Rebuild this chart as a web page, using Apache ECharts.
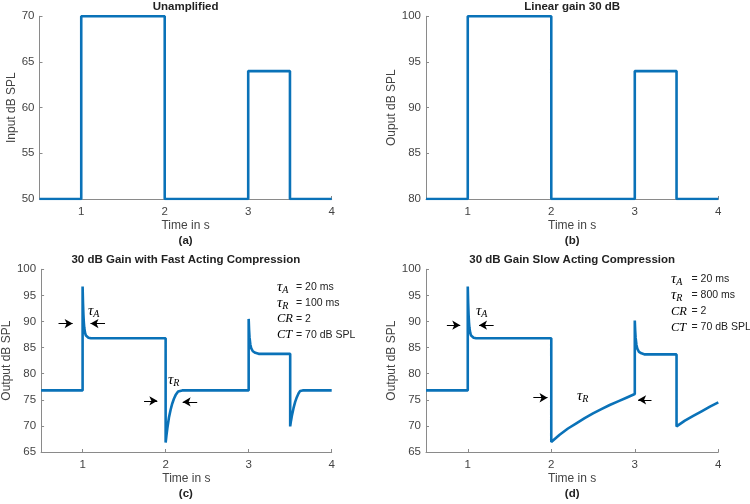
<!DOCTYPE html>
<html><head><meta charset="utf-8">
<script src="https://cdn.jsdelivr.net/npm/echarts@6/dist/echarts.min.js"></script>
<style>html,body{margin:0;padding:0;background:#fff}#c{width:750px;height:504px}</style>
</head><body><div id="c"></div>
<script>
// ---- data ----
const xTicks = [1, 2, 3, 4];

const tStep = [0.5, 1, 1, 2, 2, 3, 3, 3.5, 3.5, 4];
const inputLevel = [50, 50, 70, 70, 50, 50, 64, 64, 50, 50];
const linearOutput = [80, 80, 100, 100, 80, 80, 94, 94, 80, 80];

const tFast = [0.5, 1.0, 1.0, 1.005, 1.01, 1.015, 1.02, 1.03, 1.04, 1.05, 1.07, 1.1, 1.15,
  2.0, 2.0, 2.01, 2.02, 2.04, 2.06, 2.08, 2.1, 2.12, 2.15, 2.2,
  3.0, 3.0, 3.005, 3.01, 3.02, 3.03, 3.05, 3.08, 3.12,
  3.5, 3.5, 3.51, 3.52, 3.54, 3.56, 3.58, 3.6, 3.62, 3.65, 4.0];
const fastOutput = [76.8, 76.8, 96.7, 93.5, 91.3, 89.8, 88.8, 87.8, 87.3, 87.1, 86.9, 86.8, 86.8,
  86.8, 66.8, 68.2, 69.5, 71.6, 73.1, 74.3, 75.2, 75.9, 76.6, 76.8,
  76.8, 90.5, 88.4, 87.0, 85.6, 84.9, 84.3, 84.0, 83.8,
  83.8, 69.9, 71.0, 71.9, 73.4, 74.6, 75.5, 76.2, 76.7, 76.8, 76.8];

const tSlow = [0.5, 1.0, 1.0, 1.005, 1.01, 1.015, 1.02, 1.03, 1.04, 1.05, 1.07, 1.1, 1.15,
  2.0, 2.0, 2.1, 2.2, 2.3, 2.4, 2.5, 2.6, 2.7, 2.8, 2.9,
  3.0, 3.0, 3.005, 3.01, 3.02, 3.03, 3.05, 3.08, 3.12,
  3.5, 3.5, 3.6, 3.7, 3.8, 3.9, 4.0];
const slowOutput = [76.8, 76.8, 96.7, 93.5, 91.3, 89.8, 88.8, 87.8, 87.3, 87.1, 86.9, 86.8, 86.8,
  86.8, 66.9, 68.3, 69.5, 70.5, 71.5, 72.4, 73.2, 74.0, 74.7, 75.4,
  76.1, 90.2, 88.2, 86.9, 85.5, 84.8, 84.2, 83.9, 83.7,
  83.7, 69.9, 71.0, 71.9, 72.8, 73.7, 74.5];

const titles = ['Unamplified', 'Linear gain 30 dB', '30 dB Gain with Fast Acting Compression', '30 dB Gain Slow Acting Compression'];
const yNames = ['Input dB SPL', 'Ouput dB SPL', 'Output dB SPL', 'Output dB SPL'];
const panelTags = ['(a)', '(b)', '(c)', '(d)'];
const yRanges = [[50, 70], [80, 100], [65, 100], [65, 100]];
const fastParams = [['τ', 'A', '= 20 ms'], ['τ', 'R', '= 100 ms'], ['CR', '', '= 2'], ['CT', '', '= 70 dB SPL']];
const slowParams = [['τ', 'A', '= 20 ms'], ['τ', 'R', '= 800 ms'], ['CR', '', '= 2'], ['CT', '', '= 70 dB SPL']];

// ---- layout ----
const zip = (a, b) => a.map((x, i) => [x, b[i]]);
const FONT = '"Liberation Sans", Arial, sans-serif';
const SERIF = '"Liberation Serif", "Times New Roman", serif';
const grids = [
  {left: 39.5, top: 16.3, width: 292.2, height: 182.7},
  {left: 426, top: 16.3, width: 292.3, height: 182.7},
  {left: 40, top: 269.3, width: 291.7, height: 182.7},
  {left: 426, top: 269.3, width: 292.3, height: 182.7}
];
const yGaps = [17.5, 25.5, 24, 25.5];
const axisColor = '#8a8a8a';
const labelColor = '#444';

const xAxes = grids.map((g, i) => ({
  type: 'value', gridIndex: i, min: 0.5, max: 4,
  name: 'Time in s', nameLocation: 'middle', nameGap: 21,
  nameTextStyle: {fontFamily: FONT, fontSize: 12, color: labelColor},
  axisLine: {show: true, onZero: false, lineStyle: {color: axisColor, width: 1}},
  axisTick: {show: true, inside: true, length: 3, customValues: xTicks, lineStyle: {color: axisColor}},
  axisLabel: {customValues: xTicks, fontFamily: FONT, fontSize: 11.5, color: labelColor, margin: 7},
  splitLine: {show: false}
}));
const yAxes = grids.map((g, i) => ({
  type: 'value', gridIndex: i, min: yRanges[i][0], max: yRanges[i][1], interval: 5,
  name: yNames[i], nameLocation: 'middle', nameGap: yGaps[i], nameRotate: 90,
  nameTextStyle: {fontFamily: FONT, fontSize: 12, color: labelColor},
  axisLine: {show: true, onZero: false, lineStyle: {color: axisColor, width: 1}},
  axisTick: {show: true, inside: true, length: 3, lineStyle: {color: axisColor}},
  axisLabel: {fontFamily: FONT, fontSize: 11.5, color: labelColor, margin: 5},
  splitLine: {show: false}
}));

const lineStyle = {color: '#0a72b8', width: 2.6};
const arrowMark = (pairs) => ({
  silent: true, animation: false, symbol: ['none', 'arrow'], symbolSize: [7, 8],
  lineStyle: {color: '#000', width: 1, type: 'solid'},
  label: {show: false}, emphasis: {disabled: true},
  data: pairs.map(p => [{coord: p[0]}, {coord: p[1]}])
});

const series = [
  {type: 'line', xAxisIndex: 0, yAxisIndex: 0, data: zip(tStep, inputLevel)},
  {type: 'line', xAxisIndex: 1, yAxisIndex: 1, data: zip(tStep, linearOutput)},
  {type: 'line', xAxisIndex: 2, yAxisIndex: 2, data: zip(tFast, fastOutput),
   markLine: arrowMark([
     [[0.71, 89.6], [0.88, 89.6]], [[1.27, 89.6], [1.095, 89.6]],
     [[1.74, 74.8], [1.9, 74.8]], [[2.38, 74.6], [2.205, 74.6]]])},
  {type: 'line', xAxisIndex: 3, yAxisIndex: 3, data: zip(tSlow, slowOutput),
   markLine: arrowMark([
     [[0.75, 89.3], [0.91, 89.3]], [[1.31, 89.3], [1.135, 89.3]],
     [[1.785, 75.4], [1.955, 75.4]], [[3.2, 75.0], [3.04, 75.0]]])}
].map(s => Object.assign({showSymbol: false, symbol: 'none', lineStyle, animation: false, z: 3}, s));

const titleComps = [];
grids.forEach((g, i) => {
  const cx = g.left + g.width / 2;
  titleComps.push({text: titles[i], left: cx, top: g.top - 15, textAlign: 'center', padding: 0,
    textStyle: {fontFamily: FONT, fontSize: 11.5, fontWeight: 'bold', color: '#222'}});
  titleComps.push({text: panelTags[i], left: cx, top: g.top + g.height + 36, textAlign: 'center', padding: 0,
    textStyle: {fontFamily: FONT, fontSize: 11.5, fontWeight: 'bold', color: '#222'}});
});

const rich = {
  g: {fontFamily: SERIF, fontStyle: 'italic', fontSize: 15, color: '#111'},
  s: {fontFamily: SERIF, fontStyle: 'italic', fontSize: 10, color: '#111', verticalAlign: 'bottom', padding: [6, 0, 0, 0]},
  c: {fontFamily: SERIF, fontStyle: 'italic', fontSize: 12.5, color: '#111'}
};
function symText(p) {
  return p[1] ? '{g|' + p[0] + '}{s|' + p[1] + '}' : '{c|' + p[0] + '}';
}
const graphics = [];
function paramBlock(params, xSym, xEq, ys) {
  params.forEach((p, k) => {
    graphics.push({type: 'text', x: xSym, y: ys[k], style: {text: symText(p), rich, verticalAlign: 'middle', align: 'left'}});
    graphics.push({type: 'text', x: xEq, y: ys[k], style: {text: p[2], fontFamily: FONT, fontSize: 10.5, fill: '#222', verticalAlign: 'middle', align: 'left'}});
  });
}
paramBlock(fastParams, 277, 296, [287, 303, 319, 335]);
paramBlock(slowParams, 671, 691.5, [279, 295.5, 311.5, 327.5]);
function tauLabel(x, y, sub) {
  graphics.push({type: 'text', x, y, style: {text: '{g|τ}{s|' + sub + '}', rich, verticalAlign: 'middle', align: 'left'}});
}
tauLabel(88, 311, 'A');
tauLabel(168, 380, 'R');
tauLabel(476, 311, 'A');
tauLabel(577, 396, 'R');

const chart = echarts.init(document.getElementById('c'), null, {renderer: 'canvas'});
chart.setOption({
  backgroundColor: '#fff',
  animation: false,
  title: titleComps,
  grid: grids,
  xAxis: xAxes,
  yAxis: yAxes,
  series,
  graphic: graphics
});
</script></body></html>
